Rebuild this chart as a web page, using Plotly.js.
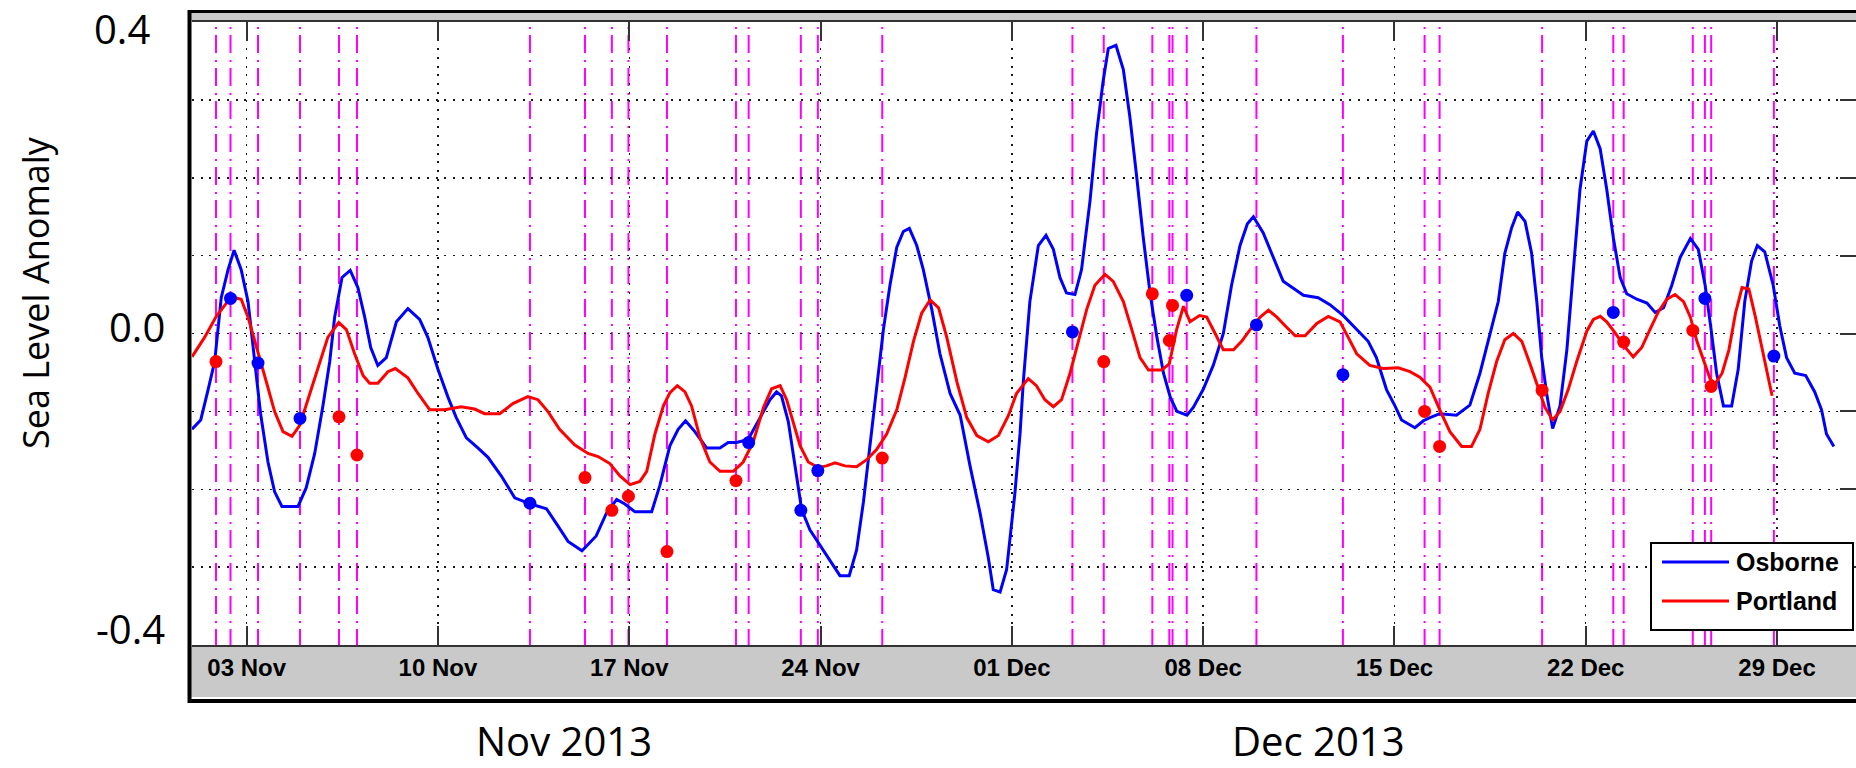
<!DOCTYPE html>
<html>
<head>
<meta charset="utf-8">
<script src="https://cdn.plot.ly/plotly-3.0.1.min.js"></script>
<style>
  html, body { margin: 0; padding: 0; background: #ffffff; overflow: hidden; }
  #chart { width: 1860px; height: 768px; }
</style>
</head>
<body>
<div id="chart"></div>
<script>
// ---------------- DATA ----------------
// Time is given as fractional days since 2013-11-01 00:00.
const seriesNames = ['Osborne', 'Portland'];

const osborneDays = [0.00,0.32,0.59,0.83,1.07,1.32,1.54,1.80,2.05,2.29,2.51,2.78,3.02,3.29,3.88,4.18,4.49,4.79,5.04,5.22,5.49,5.79,6.07,6.32,6.54,6.80,7.11,7.48,7.90,8.33,8.63,9.00,9.37,9.67,10.04,10.46,10.83,11.32,11.81,12.39,12.97,13.39,13.76,14.27,14.79,15.16,15.54,15.84,16.21,16.82,17.12,17.49,17.79,18.06,18.40,18.83,19.32,19.62,19.93,20.35,20.78,21.15,21.39,21.57,21.82,22.06,22.31,22.61,22.98,23.34,23.71,24.05,24.32,24.57,24.81,25.05,25.30,25.54,25.79,26.03,26.25,26.52,26.76,27.07,27.37,27.74,28.11,28.47,28.84,29.14,29.32,29.57,29.81,30.11,30.30,30.42,30.66,30.97,31.25,31.52,31.76,32.00,32.31,32.55,32.86,33.10,33.34,33.53,33.81,34.08,34.32,34.57,34.81,35.06,35.31,35.55,35.80,36.04,36.41,36.64,37.00,37.37,37.74,38.04,38.35,38.62,38.84,39.20,39.57,39.93,40.30,40.67,41.21,41.64,42.13,42.62,43.04,43.34,43.71,44.02,44.26,44.75,45.06,45.30,45.66,46.27,46.76,47.13,47.49,47.80,48.04,48.29,48.51,48.78,49.02,49.21,49.39,49.57,49.79,50.06,50.31,50.55,50.79,51.04,51.28,51.53,51.77,52.01,52.26,52.50,52.87,53.24,53.54,53.85,54.15,54.46,54.83,55.12,55.37,55.57,55.79,56.04,56.34,56.58,56.82,57.07,57.28,57.55,57.86,58.10,58.35,58.65,59.05,59.38,59.63,59.81,60.08];
const osborneSLA = [-0.123,-0.111,-0.072,-0.036,0.046,0.082,0.107,0.082,0.041,-0.036,-0.103,-0.165,-0.203,-0.222,-0.222,-0.198,-0.154,-0.093,-0.036,0.021,0.072,0.081,0.059,0.021,-0.018,-0.041,-0.031,0.015,0.032,0.018,-0.005,-0.046,-0.082,-0.108,-0.134,-0.147,-0.159,-0.183,-0.211,-0.219,-0.225,-0.247,-0.267,-0.279,-0.260,-0.231,-0.213,-0.219,-0.229,-0.229,-0.195,-0.144,-0.123,-0.112,-0.126,-0.147,-0.147,-0.140,-0.140,-0.136,-0.108,-0.085,-0.075,-0.080,-0.113,-0.170,-0.226,-0.252,-0.272,-0.290,-0.311,-0.311,-0.278,-0.216,-0.144,-0.077,0.005,0.062,0.111,0.131,0.135,0.113,0.082,0.031,-0.026,-0.077,-0.105,-0.170,-0.231,-0.288,-0.329,-0.332,-0.303,-0.206,-0.129,-0.062,0.041,0.113,0.126,0.108,0.072,0.052,0.050,0.082,0.170,0.257,0.324,0.366,0.370,0.339,0.278,0.201,0.123,0.051,-0.005,-0.051,-0.082,-0.100,-0.105,-0.095,-0.072,-0.041,0.000,0.062,0.113,0.141,0.150,0.129,0.098,0.067,0.058,0.049,0.046,0.037,0.023,0.005,-0.010,-0.031,-0.072,-0.093,-0.111,-0.121,-0.112,-0.108,-0.103,-0.105,-0.092,-0.051,0.000,0.041,0.103,0.136,0.156,0.144,0.103,0.041,-0.031,-0.077,-0.122,-0.093,-0.021,0.082,0.185,0.247,0.260,0.237,0.185,0.123,0.072,0.051,0.044,0.039,0.027,0.033,0.062,0.098,0.122,0.108,0.062,0.010,-0.051,-0.093,-0.093,-0.046,0.041,0.093,0.113,0.105,0.062,0.010,-0.031,-0.051,-0.054,-0.075,-0.098,-0.129,-0.145];

const portlandDays = [0.00,0.46,0.89,1.26,1.56,1.80,2.05,2.35,2.72,3.02,3.33,3.66,3.94,4.24,4.61,4.97,5.37,5.65,5.95,6.26,6.50,6.80,7.17,7.44,7.90,8.27,8.70,9.25,9.85,10.34,10.71,11.26,11.74,12.29,12.66,13.02,13.45,14.00,14.49,14.86,15.29,15.66,16.03,16.39,16.64,16.94,17.25,17.49,17.76,18.04,18.28,18.59,18.95,19.32,19.81,20.17,20.54,20.91,21.21,21.52,21.76,22.00,22.25,22.55,22.91,23.22,23.53,23.89,24.32,24.69,25.05,25.42,25.79,26.09,26.40,26.70,27.01,27.32,27.62,27.99,28.35,28.72,29.14,29.51,29.88,30.17,30.60,30.90,31.21,31.52,31.82,32.13,32.43,32.74,33.04,33.41,33.71,34.08,34.39,34.69,35.00,35.48,35.76,36.03,36.28,36.52,36.87,37.13,37.44,37.74,38.11,38.41,38.72,39.09,39.39,39.70,40.00,40.37,40.73,41.16,41.58,42.01,42.31,42.62,43.10,43.59,44.14,44.57,44.93,45.30,45.66,46.03,46.46,46.82,47.13,47.43,47.74,48.04,48.35,48.66,48.96,49.27,49.51,49.79,50.06,50.36,50.67,51.04,51.28,51.53,51.77,52.07,52.38,52.74,53.05,53.35,53.66,53.97,54.27,54.58,54.83,55.07,55.32,55.56,55.75,55.99,56.24,56.48,56.72,56.97,57.21,57.46,57.64,57.82];
const portlandSLA = [-0.030,-0.005,0.022,0.039,0.046,0.044,0.021,-0.015,-0.062,-0.100,-0.126,-0.132,-0.118,-0.085,-0.044,-0.005,0.014,0.005,-0.026,-0.054,-0.064,-0.064,-0.049,-0.045,-0.057,-0.077,-0.098,-0.098,-0.094,-0.097,-0.103,-0.103,-0.090,-0.081,-0.085,-0.100,-0.123,-0.143,-0.154,-0.158,-0.167,-0.183,-0.194,-0.190,-0.177,-0.129,-0.093,-0.076,-0.067,-0.075,-0.093,-0.134,-0.165,-0.177,-0.177,-0.165,-0.139,-0.095,-0.071,-0.067,-0.085,-0.113,-0.144,-0.165,-0.172,-0.170,-0.166,-0.170,-0.171,-0.162,-0.149,-0.129,-0.098,-0.057,-0.010,0.026,0.043,0.033,-0.005,-0.062,-0.108,-0.131,-0.139,-0.131,-0.105,-0.077,-0.058,-0.067,-0.085,-0.094,-0.085,-0.051,-0.010,0.031,0.062,0.076,0.067,0.041,0.005,-0.031,-0.047,-0.047,-0.039,0.005,0.035,0.015,0.023,0.021,0.000,-0.021,-0.021,-0.010,0.005,0.021,0.030,0.021,0.010,-0.003,-0.003,0.013,0.022,0.015,-0.005,-0.026,-0.041,-0.045,-0.044,-0.049,-0.056,-0.069,-0.098,-0.126,-0.145,-0.145,-0.123,-0.077,-0.036,-0.008,0.000,-0.010,-0.039,-0.069,-0.095,-0.111,-0.100,-0.072,-0.036,0.003,0.018,0.022,0.015,0.001,-0.015,-0.030,-0.018,0.005,0.028,0.044,0.050,0.041,0.021,-0.010,-0.036,-0.059,-0.064,-0.051,-0.021,0.026,0.059,0.057,0.021,-0.021,-0.051,-0.080];

// Altimetry samples (dots), each one on a magenta pass line
const osborneObsDays = [1.409,2.415,3.952,12.367,20.370,22.279,22.901,32.217,36.399,38.950,42.115,52.009,55.361,57.885];
const osborneObsSLA  = [0.045,-0.038,-0.109,-0.218,-0.140,-0.227,-0.176,0.002,0.049,0.011,-0.053,0.027,0.045,-0.029];
const portlandObsDays = [0.878,5.379,6.037,14.380,15.364,15.971,17.380,19.905,25.258,33.363,35.141,35.763,35.880,45.104,45.653,49.404,52.389,54.918,55.591];
const portlandObsSLA  = [-0.036,-0.107,-0.156,-0.185,-0.227,-0.209,-0.280,-0.189,-0.160,-0.036,0.051,-0.009,0.036,-0.100,-0.145,-0.073,-0.011,0.004,-0.068];

const tickDates  = ['2013-11-03','2013-11-10','2013-11-17','2013-11-24','2013-12-01','2013-12-08','2013-12-15','2013-12-22','2013-12-29'];
const tickLabels = ['03 Nov','10 Nov','17 Nov','24 Nov','01 Dec','08 Dec','15 Dec','22 Dec','29 Dec'];
const yGridVals  = [-0.3,-0.2,-0.1,0,0.1,0.2,0.3];
const yLabels    = ['0.4','0.0','-0.4'];
const monthLabels = ['Nov 2013','Dec 2013'];
const yTitle = 'Sea Level Anomaly';
const xRange = ['2013-11-01','2014-01-01'];

// ---------------- helpers ----------------
const BASE = Date.UTC(2013, 10, 1);
function toDate(d) {
  return new Date(BASE + d * 86400000).toISOString().slice(0, 19).replace('T', ' ');
}
// pixel -> paper conversion (plot area: x 192..1859, y 22..645)
const PL = 192, PR = 1859, PT = 22, PB = 645;
const px = v => (v - PL) / (PR - PL);
const py = v => (PB - v) / (PB - PT);

const BLUE = '#0000ff', RED = '#ff0000', MAG = '#ff00ff', GRAY = '#c9c9c9';

const traces = [
  { x: osborneDays.map(toDate), y: osborneSLA, name: seriesNames[0], mode: 'lines',
    line: { color: BLUE, width: 3 }, hoverinfo: 'skip' },
  { x: portlandDays.map(toDate), y: portlandSLA, name: seriesNames[1], mode: 'lines',
    line: { color: RED, width: 3 }, hoverinfo: 'skip' },
  { x: osborneObsDays.map(toDate), y: osborneObsSLA, mode: 'markers', showlegend: false,
    marker: { color: BLUE, size: 13 }, hoverinfo: 'skip' },
  { x: portlandObsDays.map(toDate), y: portlandObsSLA, mode: 'markers', showlegend: false,
    marker: { color: RED, size: 13 }, hoverinfo: 'skip' }
];

const shapes = [];
// gray bands (top and bottom) of the frame
shapes.push({ type: 'rect', xref: 'paper', yref: 'paper', layer: 'below',
  x0: px(188), x1: px(1870), y0: py(21), y1: py(12.5), fillcolor: GRAY, line: { width: 0 } });
shapes.push({ type: 'rect', xref: 'paper', yref: 'paper', layer: 'below',
  x0: px(188), x1: px(1870), y0: py(697), y1: py(645), fillcolor: GRAY, line: { width: 0 } });
// magenta pass lines at every observation time
const passDays = osborneObsDays.concat(portlandObsDays).sort((a, b) => a - b);
passDays.forEach(d => {
  shapes.push({ type: 'line', xref: 'x', yref: 'paper', layer: 'below',
    x0: toDate(d), x1: toDate(d), y0: 1, y1: 0,
    line: { color: MAG, width: 2, dash: '0px,5px,2px,6px,18px,2px' } });
});
// black frame
shapes.push({ type: 'line', xref: 'paper', yref: 'paper', layer: 'above',
  x0: px(188), x1: px(1870), y0: py(11.5), y1: py(11.5), line: { color: '#000', width: 3 } });
shapes.push({ type: 'line', xref: 'paper', yref: 'paper', layer: 'above',
  x0: px(188), x1: px(1870), y0: py(701), y1: py(701), line: { color: '#000', width: 4 } });
shapes.push({ type: 'line', xref: 'paper', yref: 'paper', layer: 'above',
  x0: px(189.5), x1: px(189.5), y0: py(703), y1: py(10), line: { color: '#000', width: 4 } });
// legend box
shapes.push({ type: 'rect', xref: 'paper', yref: 'paper', layer: 'above',
  x0: px(1651), x1: px(1853), y0: py(630), y1: py(543), fillcolor: '#ffffff', line: { color: '#000', width: 2 } });
shapes.push({ type: 'line', xref: 'paper', yref: 'paper', layer: 'above',
  x0: px(1662), x1: px(1729), y0: py(562), y1: py(562), line: { color: BLUE, width: 3 } });
shapes.push({ type: 'line', xref: 'paper', yref: 'paper', layer: 'above',
  x0: px(1662), x1: px(1729), y0: py(601), y1: py(601), line: { color: RED, width: 3 } });

const bigFont = { family: 'Open Sans, sans-serif', size: 40, color: '#000' };
const legFont = { family: 'Liberation Sans, Arial, sans-serif', size: 25, color: '#000', weight: 'bold' };
const annotations = [
  { text: yLabels[0], x: px(152), y: py(28.5), xanchor: 'right', yanchor: 'middle' },
  { text: yLabels[1], x: px(167), y: py(326), xanchor: 'right', yanchor: 'middle' },
  { text: yLabels[2], x: px(167), y: py(628), xanchor: 'right', yanchor: 'middle' },
].map(a => Object.assign(a, { xref: 'paper', yref: 'paper', showarrow: false, font: bigFont }));
annotations.push({ text: yTitle, x: px(35), y: py(293), xref: 'paper', yref: 'paper', showarrow: false,
  textangle: -90, xanchor: 'center', yanchor: 'middle', font: { family: 'Open Sans, sans-serif', size: 36, color: '#000' } });
annotations.push({ text: monthLabels[0], x: px(564), y: py(740), xref: 'paper', yref: 'paper', showarrow: false,
  xanchor: 'center', yanchor: 'middle', font: bigFont });
annotations.push({ text: monthLabels[1], x: px(1318), y: py(740), xref: 'paper', yref: 'paper', showarrow: false,
  xanchor: 'center', yanchor: 'middle', font: bigFont });
annotations.push({ text: seriesNames[0], x: px(1734), y: py(562), xref: 'paper', yref: 'paper', showarrow: false,
  xanchor: 'left', yanchor: 'middle', font: legFont });
annotations.push({ text: seriesNames[1], x: px(1734), y: py(601), xref: 'paper', yref: 'paper', showarrow: false,
  xanchor: 'left', yanchor: 'middle', font: legFont });

const gridStyle = { showgrid: true, gridcolor: '#1a1a1a', gridwidth: 1.5, griddash: '2px,6.7px', zeroline: false };

const layout = {
  width: 1860, height: 768,
  margin: { l: PL, r: 1860 - PR, t: PT, b: 768 - PB },
  paper_bgcolor: '#ffffff', plot_bgcolor: '#ffffff',
  showlegend: false,
  xaxis: Object.assign({
    type: 'date', range: xRange,
    tickmode: 'array', tickvals: tickDates, ticktext: tickLabels,
    ticks: 'inside', ticklen: 19, tickwidth: 2, tickcolor: '#333',
    showline: true, linecolor: '#333', linewidth: 2, mirror: 'ticks',
    tickfont: { family: 'Liberation Sans, Arial, sans-serif', size: 24, color: '#000', weight: 'bold' },
    fixedrange: true
  }, gridStyle),
  yaxis: Object.assign({
    range: [-0.4, 0.4], side: 'right',
    tickmode: 'array', tickvals: yGridVals,
    ticks: 'inside', ticklen: 19, tickwidth: 2, tickcolor: '#333',
    showticklabels: false, showline: false, fixedrange: true
  }, gridStyle),
  shapes: shapes,
  annotations: annotations
};

Plotly.newPlot('chart', traces, layout, { displayModeBar: false, staticPlot: true });
</script>
</body>
</html>
